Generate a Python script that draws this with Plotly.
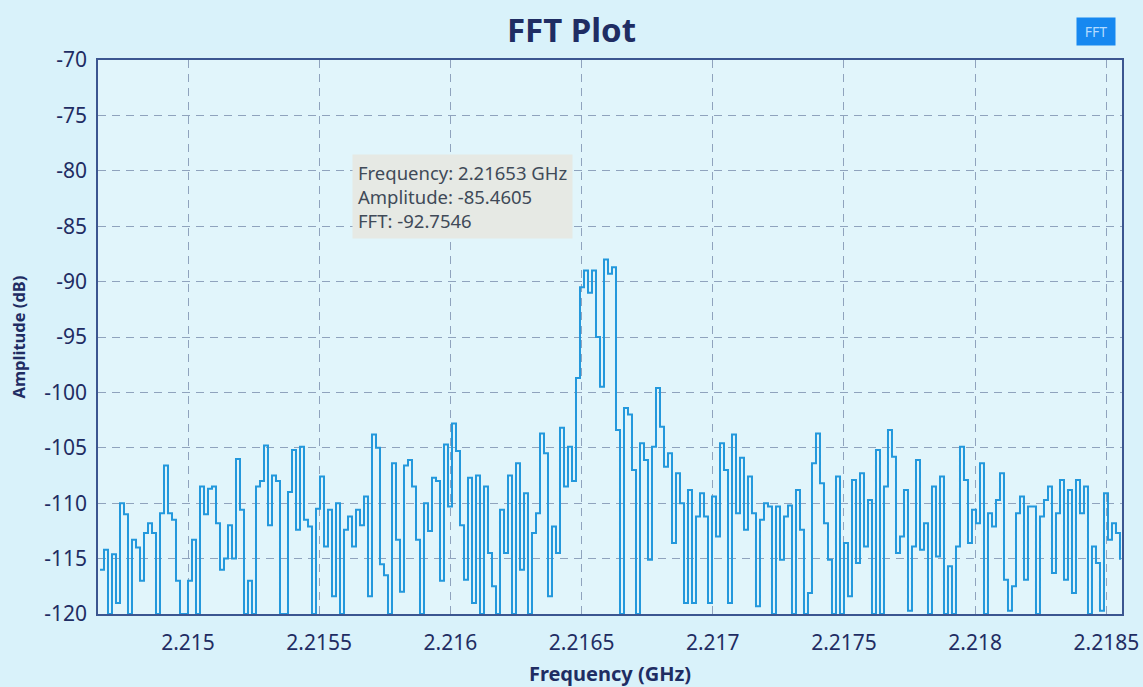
import numpy as np
import plotly.graph_objects as go

# ---- data ----
FREQ_START = 2.2146646   # GHz, first bin shown
FREQ_STOP = 2.2185518    # GHz, last bin shown
amplitude_db = [
    -116, -114.2, -120, -114.6, -119, -110, -111, -120, -113.3, -114, -117, -112.7, -111.8, -112.7, -120, -110.9,
    -106.6, -110.9, -111.5, -117, -120, -120, -117, -113.3, -120, -108.5, -111, -108.7, -108.5, -111.8, -116, -115,
    -112, -115, -106, -110.6, -120, -117, -120, -108.5, -108, -104.8, -112, -107.5, -108, -120, -120, -109,
    -105.2, -112.4, -104.9, -111.5, -112.1, -120, -110.5, -107.6, -113.9, -110.6, -118.4, -110, -120, -112.4, -111.2, -113.9,
    -110.6, -112, -109.4, -118.4, -103.8, -105, -115.5, -116.5, -120, -106.4, -113.3, -118, -106.6, -106.1, -108.5, -113.3,
    -120, -110, -112.5, -107.7, -108, -117, -104.7, -110.3, -102.8, -105.3, -112, -116.9, -107.7, -119, -107.5, -120,
    -108.5, -114.5, -117.5, -120, -110.6, -114.5, -107.5, -120, -106.4, -116, -109.1, -120, -112.7, -110.9, -103.7, -105.5,
    -118.4, -112.1, -114.5, -103.2, -108.5, -104.9, -108, -98.7, -90.5, -89, -91, -89, -95, -99.5, -88, -89.3,
    -88.7, -103.4, -120, -101.4, -102, -107, -120, -104.6, -106.1, -115.1, -104.9, -99.6, -103.1, -106.7, -105.5, -113.6,
    -107.3, -110, -119, -108.8, -119, -111.2, -109.1, -111.2, -119, -109.4, -113, -104.6, -107, -119, -103.8, -110.9,
    -105.9, -112.4, -107.6, -110.9, -119.3, -111.5, -110, -110.3, -120, -110.3, -115.1, -111.2, -110.2, -120, -108.8, -112.4,
    -120, -118.1, -106.4, -103.7, -108.2, -111.8, -115.1, -120, -107.6, -120, -113.6, -118.4, -107.9, -115.4, -107.3, -113.9,
    -109.7, -120, -105.2, -120, -108.5, -103.4, -105.8, -114.5, -113, -108.8, -119.7, -113.9, -106.1, -114.2, -111.8, -120,
    -108.5, -114.8, -107.6, -120, -115.7, -120, -113.9, -104.9, -107.9, -113.6, -110.6, -111.8, -106.4, -120, -110.9, -112.1,
    -109.7, -107.3, -116.9, -119.7, -117.5, -110.9, -109.4, -116.9, -110.3, -110.3, -120, -111.2, -109.7, -108.5, -116.3, -110.9,
    -107.9, -116.9, -108.8, -118.1, -107.9, -110.9, -108.5, -120, -113.9, -115.4, -119.7, -109.1, -113.3, -111.8, -112.7, -115.1,
]
x_tick_vals = [2.215, 2.2155, 2.216, 2.2165, 2.217, 2.2175, 2.218, 2.2185]
x_tick_text = ["2.215", "2.2155", "2.216", "2.2165", "2.217", "2.2175", "2.218", "2.2185"]
y_tick_vals = [-70, -75, -80, -85, -90, -95, -100, -105, -110, -115, -120]
y_tick_text = ["-70", "-75", "-80", "-85", "-90", "-95", "-100", "-105", "-110", "-115", "-120"]
X_RANGE = [2.214657, 2.2185595]
Y_RANGE = [-120, -70]
hover_text = "Frequency: 2.21653 GHz<br>Amplitude: -85.4605<br>FFT: -92.7546"
HOVER_AT = (2.215625, -78.5)

freqs = np.linspace(FREQ_START, FREQ_STOP, len(amplitude_db))

NAVY = "#1f2d63"
FONT = "Noto Sans"
BG = "#d9f2fa"

fig = go.Figure()
fig.add_trace(go.Scatter(
    x=freqs, y=amplitude_db, mode="lines", name="FFT",
    line=dict(color="#2398dc", width=2, shape="hv"),
    showlegend=False,
))

axis_common = dict(
    showgrid=True, gridcolor="#8fa3bd", griddash="8px,6px", gridwidth=1,
    showline=True, linecolor="#3b5690", linewidth=1.5, mirror=True,
    zeroline=False, automargin=False,
    ticks="outside", tickcolor="rgba(0,0,0,0)",
    tickfont=dict(family=FONT, size=21, color=NAVY),
)

fig.update_xaxes(
    range=X_RANGE, tickvals=x_tick_vals, ticktext=x_tick_text, ticklen=9,
    title=dict(text="<b>Frequency (GHz)</b>", font=dict(family=FONT, size=20, color=NAVY), standoff=12),
    **axis_common,
)
fig.update_yaxes(
    range=Y_RANGE, tickvals=y_tick_vals, ticktext=y_tick_text, ticklen=5,
    title=dict(text="<b>Amplitude (dB)</b>", font=dict(family=FONT, size=16.5, color=NAVY), standoff=14),
    **axis_common,
)

fig.add_annotation(
    x=HOVER_AT[0], y=HOVER_AT[1], xref="x", yref="y",
    text=hover_text, showarrow=False, align="left",
    xanchor="left", yanchor="top",
    font=dict(family=FONT, size=18.5, color="#404a58"),
    bgcolor="#e6e9e4", borderpad=5,
)

fig.add_annotation(
    x=0.9746, y=1.0514, xref="paper", yref="paper", xanchor="center", yanchor="middle",
    text="FFT", showarrow=False, width=34, height=23,
    font=dict(family=FONT, size=14, color="#b3dbff"),
    bgcolor="#1688f0", borderpad=2,
)

fig.update_layout(
    width=1143, height=687,
    margin=dict(l=98, r=21, t=60, b=73),
    paper_bgcolor=BG,
    plot_bgcolor="#e1f5fb",
    title=dict(text="<b>FFT Plot</b>", x=0.5, xanchor="center", y=0.9563, yanchor="middle",
               font=dict(family=FONT, size=33, color=NAVY)),
    font=dict(family=FONT),
)

fig.write_html(
    "out.html",
    config={"displayModeBar": False},
    post_script="document.body.style.margin='0';document.body.style.background='%s';" % BG,
)
